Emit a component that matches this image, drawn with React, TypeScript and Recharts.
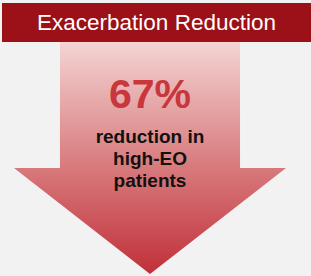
import { BarChart, Bar, XAxis, YAxis } from 'recharts';

// single value shown as the big arrow
const categories = ['high-EO'];
const reductionValues = [67];
const headline = ['67%'];
const captionLines = ['reduction in', 'high-EO', 'patients'];
const title = 'Exacerbation Reduction';

const data = categories.map((name, i) => ({ name, reduction: reductionValues[i] }));

const ArrowShape = (props: any) => {
  const { x, y, width, height } = props;
  const inset = width * 0.169;
  const headY = y + height * 0.543;
  const points = [
    [x + inset, y],
    [x + width - inset, y],
    [x + width - inset, headY],
    [x + width, headY],
    [x + width / 2, y + height],
    [x, headY],
    [x + inset, headY],
  ]
    .map((p) => p.join(','))
    .join(' ');
  const cx = x + width / 2;
  return (
    <g>
      <polygon points={points} fill="url(#arrowFill)" />
      <text
        x={cx}
        y={y + 66}
        textAnchor="middle"
        fill="#c8373b"
        fontSize={41}
        fontWeight="bold"
        fontFamily="'Liberation Sans', Arial, sans-serif"
      >
        {headline[0]}
      </text>
      {captionLines.map((line, i) => (
        <text
          key={line}
          x={cx}
          y={y + 101 + i * 22}
          textAnchor="middle"
          fill="#111"
          fontSize={19}
          fontWeight="bold"
          fontFamily="'Liberation Sans', Arial, sans-serif"
        >
          {line}
        </text>
      ))}
    </g>
  );
};

export default function App() {
  return (
    <div style={{ position: 'fixed', left: 0, top: 0, width: 311, height: 276, background: '#f2f2f2' }}>
      <div
        style={{
          position: 'absolute',
          left: 2,
          top: 3,
          width: 309,
          height: 39,
          background: '#9b1117',
          color: '#fff',
          fontFamily: "'Liberation Sans', Arial, sans-serif",
          fontSize: 22.5,
          lineHeight: '39px',
          textAlign: 'center',
          zIndex: 1,
        }}
      >
        {title}
      </div>
      <BarChart
        width={311}
        height={276}
        data={data}
        margin={{ top: 42, right: 25, bottom: 2, left: 14 }}
        barCategoryGap={0}
      >
        <defs>
          <linearGradient id="arrowFill" x1="0" y1="0" x2="0" y2="1">
            <stop offset="0%" stopColor="#f4d4d4" />
            <stop offset="50%" stopColor="#da8082" />
            <stop offset="100%" stopColor="#c0303a" />
          </linearGradient>
        </defs>
        <XAxis dataKey="name" hide />
        <YAxis hide domain={[0, 'dataMax']} />
        <Bar dataKey="reduction" shape={<ArrowShape />} isAnimationActive={false} />
      </BarChart>
    </div>
  );
}
